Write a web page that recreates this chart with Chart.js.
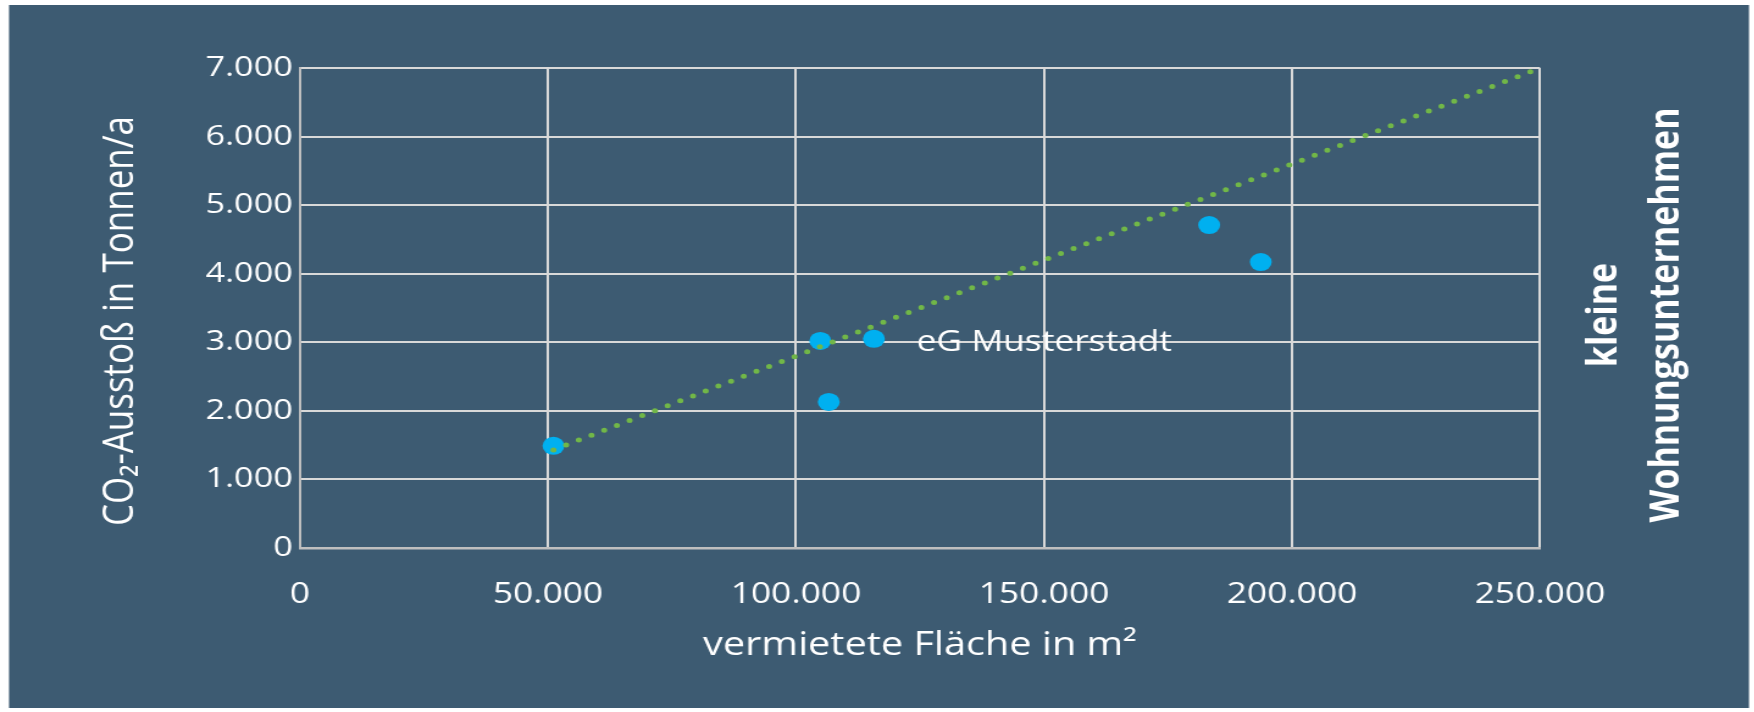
<!DOCTYPE html>
<html>
<head>
<meta charset="utf-8">
<script src="https://cdn.jsdelivr.net/npm/chart.js@4"></script>
<style>
  html, body { margin:0; padding:0; background:#ffffff; overflow:hidden; width:1754px; height:712px; }
  #wrap { position:absolute; left:0; top:0; width:1438px; height:712px; transform:scaleX(1.22); transform-origin:0 0; }
  canvas { display:block; }
</style>
</head>
<body>
<div id="wrap"><canvas id="c" width="1438" height="712"></canvas></div>
<script>
// ---- data ----
const areaX = [51100, 104900, 115700, 106600, 183300, 193700];   // vermietete Fläche in m²
const co2Y  = [1490, 3020, 3050, 2130, 4710, 4170];               // CO2 in Tonnen/a
const pointNames = ['', '', 'eG Musterstadt', '', '', ''];
const trendX = [51100, 250000];
const trendY = [1430, 7000];
const xTickValues = [0, 50000, 100000, 150000, 200000, 250000];
const xTickLabels = ['0', '50.000', '100.000', '150.000', '200.000', '250.000'];
const yTickValues = [0, 1000, 2000, 3000, 4000, 5000, 6000, 7000];
const yTickLabels = ['0', '1.000', '2.000', '3.000', '4.000', '5.000', '6.000', '7.000'];
const xTitle = 'vermietete Fläche in m²';
const yTitle = 'CO₂-Ausstoß in Tonnen/a';
const sideTitle = ['kleine', 'Wohnungsunternehmen'];

// ---- styles ----
const BG = '#3D5B72';
const GRID = '#D9D9D9';
const FONT = '"Open Sans", "DejaVu Sans", sans-serif';

const bgPlugin = {
  id: 'bg',
  beforeDraw(chart) {
    const ctx = chart.ctx;
    ctx.save();
    ctx.fillStyle = '#ffffff';
    ctx.fillRect(0, 0, chart.width, chart.height);
    ctx.fillStyle = BG;
    ctx.fillRect(7.4, 5, 1426.2, 703);
    ctx.restore();
  }
};

const textPlugin = {
  id: 'texts',
  afterDraw(chart) {
    const ctx = chart.ctx;
    const xs = chart.scales.x, ys = chart.scales.y;
    ctx.save();
    ctx.fillStyle = '#ffffff';
    // point name labels
    ctx.font = '29px ' + FONT;
    ctx.textAlign = 'left';
    ctx.textBaseline = 'alphabetic';
    pointNames.forEach((n, i) => {
      if (!n) return;
      const px = xs.getPixelForValue(areaX[i]);
      const py = ys.getPixelForValue(co2Y[i]);
      ctx.fillText(n, px + 35, py + 12);
    });
    // y axis title (rotated)
    ctx.font = '35px ' + FONT;
    ctx.textAlign = 'center';
    ctx.textBaseline = 'middle';
    ctx.save();
    ctx.translate(99, 321);
    ctx.rotate(-Math.PI / 2);
    ctx.fillText(yTitle, 0, 0);
    ctx.restore();
    // side title (rotated)
    ctx.font = 'bold 34px ' + FONT;
    ctx.textAlign = 'center';
    ctx.textBaseline = 'alphabetic';
    const baseX = [1325, 1376];
    sideTitle.forEach((t, i) => {
      ctx.save();
      ctx.translate(baseX[i], 315);
      ctx.rotate(-Math.PI / 2);
      ctx.fillText(t, 0, 0);
      ctx.restore();
    });
    ctx.restore();
  }
};

const chart = new Chart(document.getElementById('c'), {
  type: 'scatter',
  data: {
    datasets: [
      {
        type: 'line',
        label: 'Trend',
        data: trendX.map((x, i) => ({ x: x, y: trendY[i] })),
        borderColor: '#71B748',
        borderWidth: 5,
        borderDash: [0, 11.5],
        borderCapStyle: 'round',
        pointRadius: 0,
        fill: false,
        tension: 0,
        order: 0
      },
      {
        label: 'Unternehmen',
        data: areaX.map((x, i) => ({ x: x, y: co2Y[i] })),
        backgroundColor: '#00B0F0',
        borderWidth: 0,
        pointRadius: 9,
        pointHoverRadius: 9,
        order: 1
      }
    ]
  },
  options: {
    responsive: false,
    animation: false,
    devicePixelRatio: 1,
    events: [],
    layout: { padding: { left: 0, top: 68, right: 175.7, bottom: 0 } },
    plugins: { legend: { display: false }, tooltip: { enabled: false } },
    scales: {
      x: {
        type: 'linear',
        min: 0, max: 250000,
        afterBuildTicks(s) { s.ticks = xTickValues.map(v => ({ value: v })); },
        afterFit(s) { s.height = 164; },
        ticks: {
          color: '#ffffff',
          font: { family: FONT, size: 29 },
          padding: 29,
          maxRotation: 0,
          callback: (v) => { const i = xTickValues.indexOf(v); return i >= 0 ? xTickLabels[i] : ''; }
        },
        grid: { color: GRID, lineWidth: 2, drawTicks: false },
        border: { color: '#BFBFBF', width: 2.5 },
        title: {
          display: true, text: xTitle, color: '#ffffff',
          font: { family: FONT, size: 32.5 },
          padding: { top: 0, bottom: 47 }
        }
      },
      y: {
        type: 'linear',
        min: 0, max: 7000,
        afterBuildTicks(s) { s.ticks = yTickValues.map(v => ({ value: v })); },
        afterFit(s) { s.width = 245.9; },
        ticks: {
          color: '#ffffff',
          font: { family: FONT, size: 28 },
          padding: 6,
          callback: (v) => { const i = yTickValues.indexOf(v); return i >= 0 ? yTickLabels[i] : ''; }
        },
        grid: { color: GRID, lineWidth: 2, drawTicks: false },
        border: { color: '#BFBFBF', width: 2 },
        title: { display: false }
      }
    }
  },
  plugins: [bgPlugin, textPlugin]
});
</script>
</body>
</html>
